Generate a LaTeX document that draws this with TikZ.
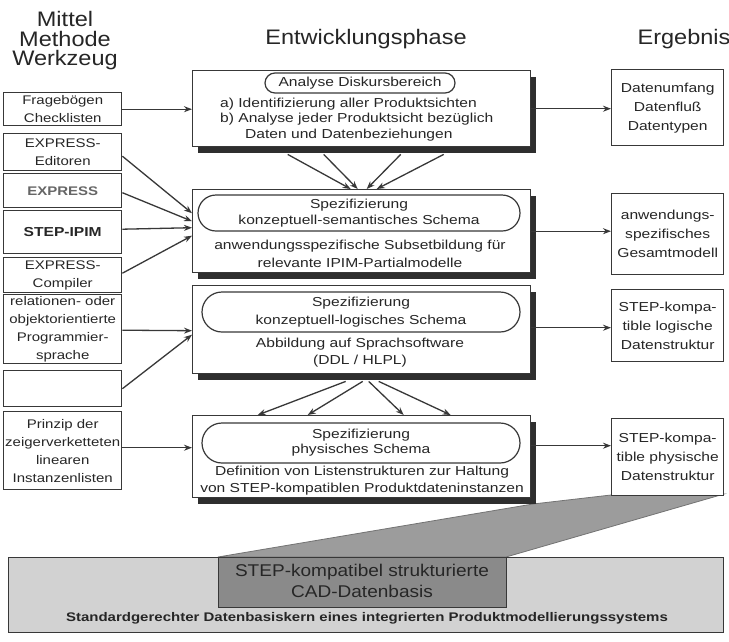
\documentclass[tikz,border=0pt]{standalone}
\usepackage{fontspec}
\setmainfont{Liberation Sans}
\newfontfamily\widesans[FakeStretch=1.2]{Liberation Sans}
\newfontfamily\headsans[FakeStretch=1.12]{Liberation Sans}
\usetikzlibrary{arrows.meta,shadows}
\newcommand\setfs[2]{\fontsize{#1}{#2}\selectfont}
\definecolor{ink}{HTML}{262626}
\definecolor{edge}{HTML}{383838}
\definecolor{shade}{HTML}{2E2E2E}
\definecolor{basefill}{HTML}{D2D2D2}
\definecolor{corefill}{HTML}{8A8A8A}
\definecolor{funnelfill}{HTML}{9C9C9C}
\begin{document}
\begin{tikzpicture}[x=1pt,y=-1pt,
  every node/.style={text=ink},
  head/.style={font=\headsans\setfs{21}{19.5}, align=center, inner sep=0pt},
  toolbox/.style={draw=edge, line width=1.4pt, fill=white, minimum width=118pt,
    anchor=north west, align=center, inner sep=1pt, font=\widesans\setfs{12.5}{18}},
  phasebox/.style={draw=edge, line width=1.4pt, fill=white, minimum width=338pt,
    anchor=north west, drop shadow={shadow xshift=5pt, shadow yshift=-6pt, fill=shade, opacity=1}},
  pill/.style={draw=edge, line width=1.2pt, align=center, inner sep=0pt, font=\widesans\setfs{13}{16}},
  phasetext/.style={align=center, inner sep=0pt, font=\widesans\setfs{13}{17}},
  resultbox/.style={draw=edge, line width=1.4pt, fill=white, minimum width=112pt,
    anchor=north west, align=center, inner sep=1pt, font=\widesans\setfs{13}{19}},
  link/.style={draw=edge, line width=1.3pt, -{Stealth[length=8pt,width=6pt]}},
]
\useasboundingbox[fill=white] (0,0) rectangle (729,641);

% column headings
\node[head] (hmittel) at (65,41) {Mittel\\Methode\\Werkzeug};
\node[head] (hphase) at (366,39) {Entwicklungsphase};
\node[head] (herg) at (684,39) {Ergebnis};

% funnel from the last stage into the data base
\fill[funnelfill, draw=black!55, line width=0.8pt]
  (218,557) -- (533,504) -- (611,495) -- (724,494) -- (506,557) -- cycle;

% data base core
\node[draw=edge, line width=1.4pt, fill=basefill, minimum width=715pt, minimum height=75pt,
  anchor=north west, inner sep=0pt] (base) at (8,557) {};
\node[draw=edge, line width=1.4pt, fill=corefill, minimum width=288pt, minimum height=50pt,
  anchor=north west, inner sep=0pt] (core) at (218,557) {};
\node[align=center, inner sep=0pt, font=\headsans\setfs{17}{21}] (coretext) at (362,581)
  {STEP-kompatibel strukturierte\\CAD-Datenbasis};
\node[inner sep=0pt, font=\widesans\bfseries\setfs{12.5}{14}] (basetext) at (367,618)
  {Standardgerechter Datenbasiskern eines integrierten Produktmodellierungssystems};

% tools and methods
\node[toolbox, minimum height=33pt] (frag) at (3,92) {Fragebögen\\Checklisten};
\node[toolbox, minimum height=37pt] (editor) at (3,133) {EXPRESS-\\Editoren};
\node[toolbox, minimum height=34pt, font=\widesans\bfseries\setfs{12.5}{18}, text=black!60] (express) at (3,173) {EXPRESS};
\node[toolbox, minimum height=43pt, font=\widesans\bfseries\setfs{13}{18}] (ipim) at (3,210) {STEP-IPIM};
\node[toolbox, minimum height=35pt] (compiler) at (3,257) {EXPRESS-\\Compiler};
\node[toolbox, minimum height=69pt] (lang) at (3,294) {relationen- oder\\objektorientierte\\Programmier-\\sprache};
\node[toolbox, minimum height=36pt] (blank) at (3,370) {};
\node[toolbox, minimum height=78pt] (lists) at (3,411) {Prinzip der\\zeigerverketteten\\linearen\\Instanzenlisten};

% development stages
\node[phasebox, minimum height=76pt] (ana) at (192,70) {};
\node[pill, minimum width=190pt, minimum height=20pt, rounded corners=10pt] (anapill) at (360,83) {Analyse Diskursbereich};
\node[phasetext, align=left, anchor=west, font=\widesans\setfs{13}{15.5}] (anatext) at (220,119.5)
  {a) Identifizierung aller Produktsichten\\b) Analyse jeder Produktsicht bezüglich\\\hspace*{25pt}Daten und Datenbeziehungen};

\node[phasebox, minimum height=83pt] (sem) at (192,189) {};
\node[pill, minimum width=322pt, minimum height=36pt, rounded corners=18pt] (sempill) at (359,213)
  {Spezifizierung\\konzeptuell-semantisches Schema};
\node[phasetext, font=\widesans\setfs{13}{18}] (semtext) at (360,254)
  {anwendungsspezifische Subsetbildung für\\relevante IPIM-Partialmodelle};

\node[phasebox, minimum height=88pt] (log) at (192,285) {};
\node[pill, minimum width=318pt, minimum height=40pt, rounded corners=20pt, font=\widesans\setfs{13}{18}] (logpill) at (361,312)
  {Spezifizierung\\konzeptuell-logisches Schema};
\node[phasetext] (logtext) at (360,353) {Abbildung auf Sprachsoftware\\(DDL / HLPL)};

\node[phasebox, minimum height=82pt] (phys) at (192,415) {};
\node[pill, minimum width=318pt, minimum height=40pt, rounded corners=20pt, font=\widesans\setfs{13}{15}] (physpill) at (361,443)
  {Spezifizierung\\physisches Schema};
\node[phasetext] (phystext) at (362,481)
  {Definition von Listenstrukturen zur Haltung\\von STEP-kompatiblen Produktdateninstanzen};

% results
\node[resultbox, minimum height=76pt] (scope) at (611,69) {Datenumfang\\Datenfluß\\Datentypen};
\node[resultbox, minimum height=81pt] (model) at (611,193) {anwendungs-\\spezifisches\\Gesamtmodell};
\node[resultbox, minimum height=72pt] (logres) at (611,289) {STEP-kompa-\\tible logische\\Datenstruktur};
\node[resultbox, minimum height=77pt] (physres) at (611,418) {STEP-kompa-\\tible physische\\Datenstruktur};

% tools feeding the stages
\draw[link] (frag.east) -- (ana.west |- frag.east);
\draw[link] ([yshift=-4pt]editor.east) -- ([yshift=18pt]sem.west);
\draw[link] ([yshift=-2pt]express.east) -- ([yshift=10pt]sem.west);
\draw[link] ([yshift=3pt]ipim.east) -- ([yshift=3.5pt]sem.west);
\draw[link] ([yshift=2pt]compiler.east) -- ([yshift=-4.5pt]sem.west);
\draw[link] ([yshift=-1pt]lang.east) -- ([yshift=-1pt]log.west);
\draw[link] (blank.east) -- ([yshift=-5pt]log.west);
\draw[link] ([yshift=3pt]lists.east) -- ([yshift=9pt]phys.west);

% stages to results
\draw[link] (ana.east) -- (scope.west |- ana.east);
\draw[link] (sem.east) -- (model.west |- sem.east);
\draw[link] ([yshift=2pt]log.east) -- ([yshift=2pt]logres.west |- log.east);
\draw[link] ([yshift=11pt]phys.east) -- ([yshift=11pt]physres.west |- phys.east);

% stage to stage
\foreach \sx/\ex in {-74/-11, -38/-4, 39/5, 82/15}
  \draw[link] ([xshift=\sx pt, yshift=-7pt]ana.south) -- ([xshift=\ex pt]sem.north);
\foreach \sx/\ex in {-16/-104, 1/-54, 7/42, 17/89}
  \draw[link] ([xshift=\sx pt, yshift=-7pt]log.south) -- ([xshift=\ex pt]phys.north);
\end{tikzpicture}
\end{document}
